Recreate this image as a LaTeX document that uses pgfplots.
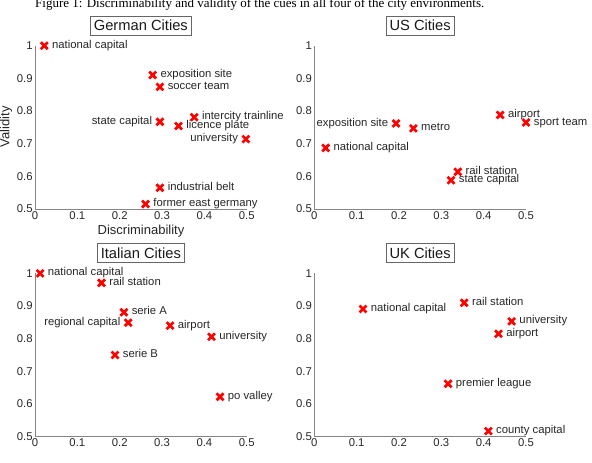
\documentclass[border=0pt]{standalone}
\usepackage{fontspec}
\setmainfont{Liberation Sans}
\newfontfamily\capfont{Liberation Serif}
\usepackage{pgfplots}
\pgfplotsset{compat=1.18}
\usepackage{pgfplotstable}

% cue positions: discriminability (x) and validity (y)
\pgfplotstableread[col sep=comma]{
x,y,label
0.022,1.000,national capital
0.278,0.910,exposition site
0.295,0.874,soccer team
0.376,0.781,intercity trainline
0.339,0.754,licence plate
0.295,0.565,industrial belt
0.261,0.515,former east germany
}\germanR
\pgfplotstableread[col sep=comma]{
x,y,label
0.295,0.767,state capital
0.498,0.714,university
}\germanL
\pgfplotstableread[col sep=comma]{
x,y,label
0.234,0.747,metro
0.027,0.687,national capital
0.439,0.788,airport
0.500,0.765,sport team
0.339,0.614,rail station
0.323,0.588,state capital
}\usR
\pgfplotstableread[col sep=comma]{
x,y,label
0.193,0.762,exposition site
}\usL
\pgfplotstableread[col sep=comma]{
x,y,label
0.012,1.000,national capital
0.157,0.971,rail station
0.210,0.881,serie A
0.319,0.840,airport
0.417,0.806,university
0.189,0.750,serie B
0.437,0.622,po valley
}\italyR
\pgfplotstableread[col sep=comma]{
x,y,label
0.220,0.849,regional capital
}\italyL
\pgfplotstableread[col sep=comma]{
x,y,label
0.115,0.891,national capital
0.354,0.910,rail station
0.466,0.853,university
0.435,0.815,airport
0.316,0.662,premier league
0.411,0.517,county capital
}\ukR

\pgfplotsset{
  cuepanel/.style={
    scale only axis, width=211.7bp, height=163.3bp,
    anchor=south west,
    xmin=0, xmax=0.5, ymin=0.5, ymax=1,
    axis lines*=left,
    axis line style={draw=black!48, line width=0.9bp},
    major tick length=0pt,
    xtick={0,0.1,0.2,0.3,0.4,0.5},
    xticklabels={0,0.1,0.2,0.3,0.4,0.5},
    ytick={0.5,0.6,0.7,0.8,0.9,1},
    yticklabels={0.5,0.6,0.7,0.8,0.9,1},
    tick label style={font=\fontsize{11.3bp}{13bp}\selectfont, text=black!85},
    xticklabel style={anchor=north, inner sep=0pt, yshift=-2.2bp},
    yticklabel style={anchor=east, inner sep=0pt, xshift=-2.2bp},
    clip=false,
    title style={at={(0.5,1)}, anchor=south, yshift=4.5bp,
      draw=black!60, line width=0.7bp, inner xsep=3.5bp, inner ysep=4bp,
      font=\fontsize{14.7bp}{16bp}\selectfont, text=black!90},
  },
  cue/.style={only marks, mark=x, mark size=4.9bp, draw=red, line width=2.7bp,
    mark options={draw=red, line width=2.7bp, solid},
    nodes near coords, point meta=explicit symbolic,
    every node near coord/.append style={
      font=\fontsize{11.3bp}{13bp}\selectfont, text=black!85,
      inner sep=0pt, text height=0.72em, text depth=0.2em}},
  right lab/.style={cue, every node near coord/.append style={anchor=west, xshift=6.5bp}},
  left lab/.style={cue, every node near coord/.append style={anchor=east, xshift=-6.5bp}},
}

\begin{document}
\begin{tikzpicture}[x=1bp,y=1bp]
\useasboundingbox (0,0) rectangle (592,463);

\node[anchor=base west, inner sep=0pt, font=\capfont\fontsize{13bp}{15bp}\selectfont]
  at (35,455.7) {Figure 1: Discriminability and validity of the cues in all four of the city environments.};

\begin{axis}[cuepanel, at={(35bp,254bp)}, title={German Cities}]
  \addplot[right lab] table[x=x, y=y, meta=label]{\germanR};
  \addplot[left lab] table[x=x, y=y, meta=label]{\germanL};
\end{axis}

\begin{axis}[cuepanel, at={(314.3bp,254bp)}, title={US Cities}]
  \addplot[right lab] table[x=x, y=y, meta=label]{\usR};
  \addplot[left lab] table[x=x, y=y, meta=label]{\usL};
\end{axis}

\begin{axis}[cuepanel, at={(35bp,26.3bp)}, title={Italian Cities}]
  \addplot[right lab] table[x=x, y=y, meta=label]{\italyR};
  \addplot[left lab] table[x=x, y=y, meta=label]{\italyL};
\end{axis}

\begin{axis}[cuepanel, at={(314.3bp,26.3bp)}, title={UK Cities}]
  \addplot[right lab] table[x=x, y=y, meta=label]{\ukR};
\end{axis}

% axis labels shown only on the first panel
\node[anchor=base, inner sep=0pt, font=\fontsize{13bp}{15bp}\selectfont, text=black!85]
  at (141,228.7) {Discriminability};
\node[rotate=90, inner sep=0pt, font=\fontsize{13bp}{15bp}\selectfont, text=black!85]
  at (6,336.3) {Validity};
\end{tikzpicture}
\end{document}
